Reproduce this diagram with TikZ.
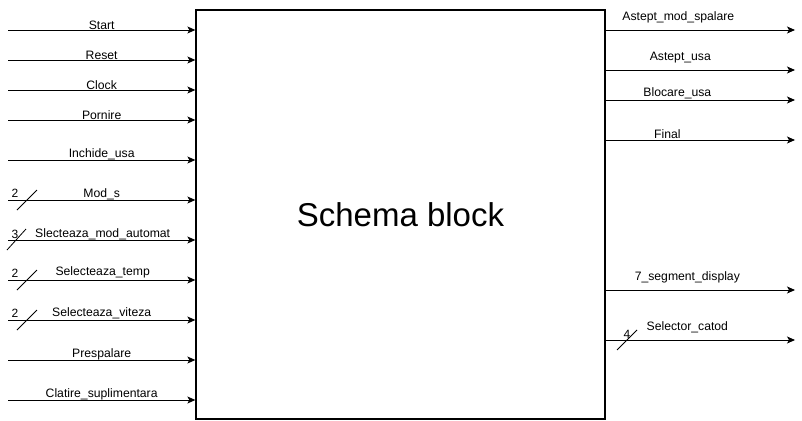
\documentclass[tikz,border=0pt]{standalone}
\usepackage{fontspec}
\setmainfont{Liberation Sans}
\usepackage{xcolor}
\usetikzlibrary{arrows.meta, positioning}
\tikzset{
  blk/.style={rectangle, draw=black, line width=1.3pt, fill=white,
              minimum width=409pt, minimum height=409pt, inner sep=0pt,
              font=\fontsize{33}{37}\selectfont},
  arr/.style={-{Stealth[length=8pt,width=7pt,inset=2pt]}, line width=0.9pt},
  lbl/.style={font=\fontsize{12.2}{14}\selectfont, inner sep=1pt},
  bus/.style={line width=0.8pt},
  busnr/.style={font=\fontsize{12}{14}\selectfont, inner sep=0pt},
}

\begin{document}
\begin{tikzpicture}[x=1pt, y=-1pt]
  \useasboundingbox (0,0) rectangle (802,420);

  % ── Block ─────────────────────────────────────────────────────────────────
  \node[blk] at (400.5,214.5) (blk) {Schema block};

  % ── Input ends ────────────────────────────────────────────────────────────
  \coordinate (start)   at (8, 30);
  \coordinate (reset)   at (8, 60);
  \coordinate (clock)   at (8, 90);
  \coordinate (pornire) at (8,120);
  \coordinate (inchide) at (8,160);
  \coordinate (mods)    at (8,200);
  \coordinate (modaut)  at (8,240);
  \coordinate (seltemp) at (8,280);
  \coordinate (selvit)  at (8,320);
  \coordinate (presp)   at (8,360);
  \coordinate (clatire) at (8,400);

  % ── Output ends ───────────────────────────────────────────────────────────
  \coordinate (astmod)  at (795, 30);
  \coordinate (astusa)  at (795, 70);
  \coordinate (blocusa) at (795,100);
  \coordinate (final)   at (795,140);
  \coordinate (sevseg)  at (795,290);
  \coordinate (selcat)  at (795,340);

  % ── Inputs ────────────────────────────────────────────────────────────────
  \draw[arr] (start)   -- node[lbl, above=-1.5pt] {Start}   (blk.west |- start);
  \draw[arr] (reset)   -- node[lbl, above=-1.5pt] {Reset}   (blk.west |- reset);
  \draw[arr] (clock)   -- node[lbl, above=-1.5pt] {Clock}   (blk.west |- clock);
  \draw[arr] (pornire) -- node[lbl, above=-1.5pt] {Pornire} (blk.west |- pornire);
  \draw[arr] (inchide) -- node[lbl, above=-1.5pt] {Inchide\_usa} (blk.west |- inchide);
  \draw[arr] (mods)    -- node[lbl, above=-1.5pt] {Mod\_s}  (blk.west |- mods);
  \draw[arr] (modaut)  -- node[lbl, above=-1.5pt, xshift=1pt] {Slecteaza\_mod\_automat} (blk.west |- modaut);
  \draw[arr] (seltemp) -- node[lbl, above=1pt, xshift=1pt] {Selecteaza\_temp}   (blk.west |- seltemp);
  \draw[arr] (selvit)  -- node[lbl, above=0pt] {Selecteaza\_viteza} (blk.west |- selvit);
  \draw[arr] (presp)   -- node[lbl, above=-1.5pt] {Prespalare}         (blk.west |- presp);
  \draw[arr] (clatire) -- node[lbl, above=-1.5pt] {Clatire\_suplimentara} (blk.west |- clatire);

  % ── Outputs ───────────────────────────────────────────────────────────────
  \draw[arr] (blk.east |- astmod)  -- node[lbl, above=6pt, xshift=-22pt] {Astept\_mod\_spalare} (astmod);
  \draw[arr] (blk.east |- astusa)  -- node[lbl, above=6pt, xshift=-20pt] {Astept\_usa}  (astusa);
  \draw[arr] (blk.east |- blocusa) -- node[lbl, above=-0.5pt, xshift=-23pt] {Blocare\_usa}     (blocusa);
  \draw[arr] (blk.east |- final)   -- node[lbl, above=-0.5pt, xshift=-33pt] {Final}           (final);
  \draw[arr] (blk.east |- sevseg)  -- node[lbl, above=6pt, xshift=-13pt] {7\_segment\_display} (sevseg);
  \draw[arr] (blk.east |- selcat)  -- node[lbl, above=6pt, xshift=-13pt] {Selector\_catod}    (selcat);

  % ── Bus widths ────────────────────────────────────────────────────────────
  \draw[bus] (17,210) -- (37,190);
  \node[busnr] at (15,193) (nmods) {2};
  \draw[bus] (7,250) -- (26,229);
  \node[busnr] at (15,234) (nmodaut) {3};
  \draw[bus] (17,290) -- (37,270);
  \node[busnr] at (15,273) (nseltemp) {2};
  \draw[bus] (17,330) -- (37,310);
  \node[busnr] at (15,313) (nselvit) {2};
  \draw[bus] (617,350) -- (637,330);
  \node[busnr] at (627,334) (nselcat) {4};
\end{tikzpicture}
\end{document}
